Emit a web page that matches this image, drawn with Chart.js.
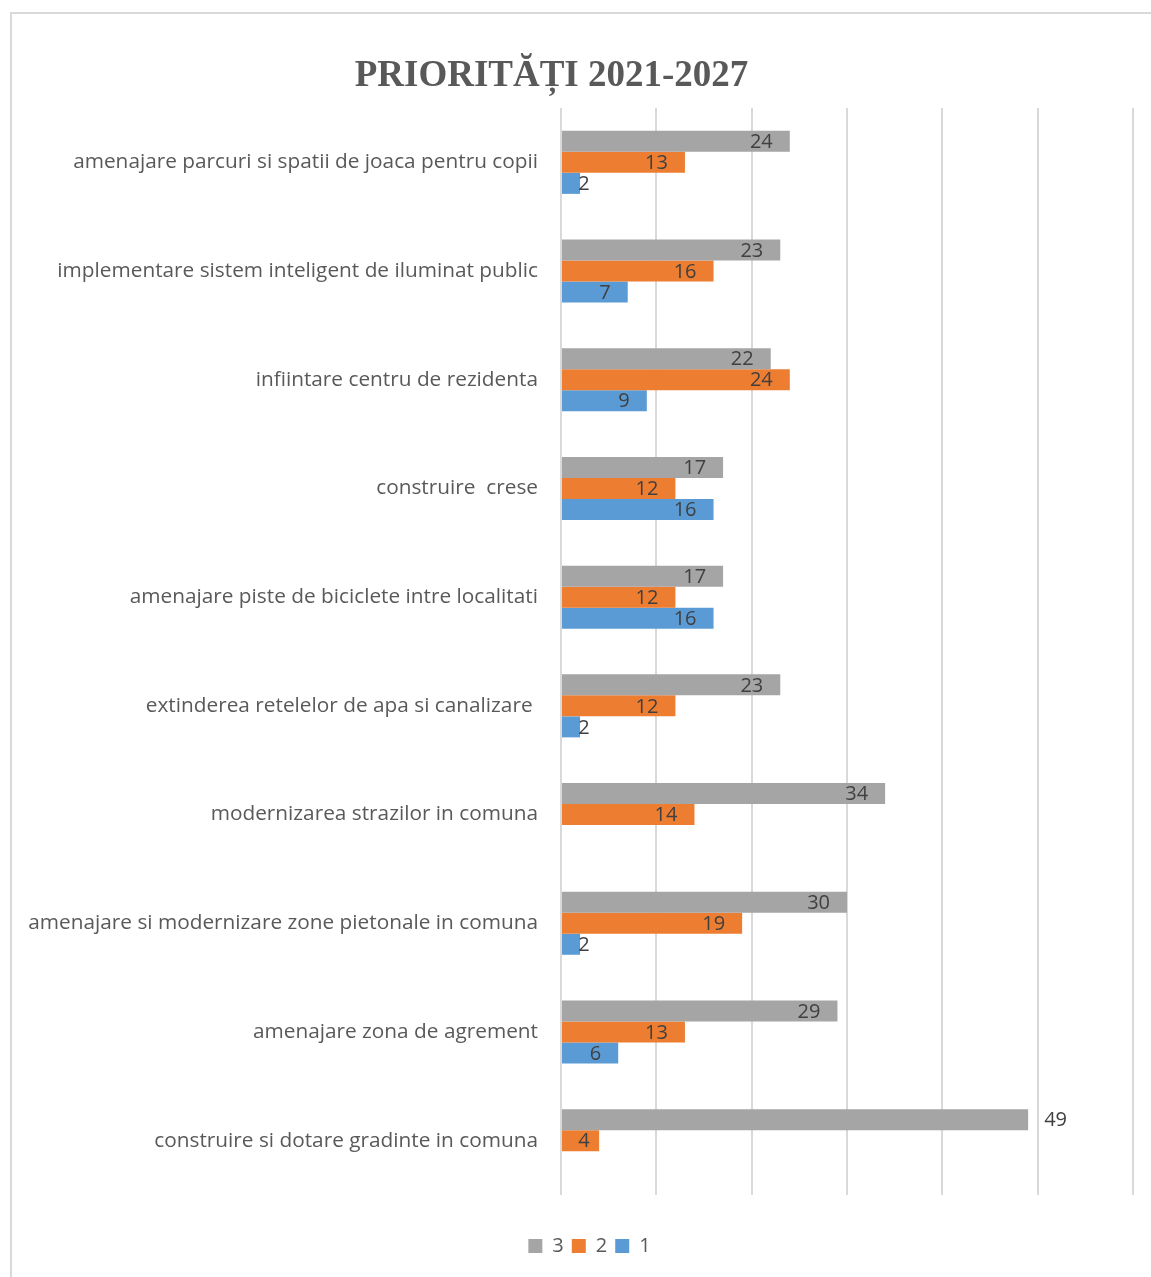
<!DOCTYPE html>
<html>
<head>
<meta charset="utf-8">
<script src="https://cdn.jsdelivr.net/npm/chart.js@4/dist/chart.umd.min.js"></script>
<style>
  html, body { margin: 0; padding: 0; background: #fff; }
  #wrap { position: relative; width: 1151px; height: 1277px; overflow: hidden; }
  #frame { position: absolute; left: 10px; top: 12px; width: 1200px; height: 1300px; border: 2px solid #d9d9d9; box-sizing: border-box; pointer-events: none; }
  canvas { position: absolute; left: 0; top: 0; }
</style>
</head>
<body>
<div id="wrap">
  <canvas id="c" width="1151" height="1277"></canvas>
  <div id="frame"></div>
</div>
<script>
const chartTitle = 'PRIORITĂȚI 2021-2027';
const categories = [
  'amenajare parcuri si spatii de joaca pentru copii',
  'implementare sistem inteligent de iluminat public',
  'infiintare centru de rezidenta',
  'construire  crese',
  'amenajare piste de biciclete intre localitati',
  'extinderea retelelor de apa si canalizare ',
  'modernizarea strazilor in comuna',
  'amenajare si modernizare zone pietonale in comuna',
  'amenajare zona de agrement',
  'construire si dotare gradinte in comuna'
];
const seriesNames = ['3', '2', '1'];
const series3 = [24, 23, 22, 17, 17, 23, 34, 30, 29, 49];
const series2 = [13, 16, 24, 12, 12, 12, 14, 19, 13, 4];
const series1 = [2, 7, 9, 16, 16, 2, null, 2, 6, null];
const seriesColors = ['#A5A5A5', '#ED7D31', '#5B9BD5'];
const xMin = 0, xMax = 60, xStep = 10;

const allVals = [...series3, ...series2, ...series1].filter(v => v != null);
const maxVal = Math.max(...allVals);

const titlePlugin = {
  id: 'customTitle',
  afterDraw(chart) {
    const ctx = chart.ctx;
    ctx.save();
    ctx.font = 'bold 37px "Liberation Serif"';
    ctx.fillStyle = '#595959';
    ctx.textAlign = 'center';
    ctx.textBaseline = 'alphabetic';
    ctx.fillText(chartTitle, 551.5, 86);
    ctx.restore();
  }
};

const legendShift = {
  id: 'legendShift',
  afterLayout(chart) {
    if (chart.legend) {
      chart.legend.left += 23;
      chart.legend.right += 23;
    }
  }
};

const labelPlugin = {
  id: 'barLabels',
  afterDatasetsDraw(chart) {
    const ctx = chart.ctx;
    ctx.save();
    ctx.font = '20px "Open Sans"';
    ctx.fillStyle = '#404040';
    ctx.textAlign = 'center';
    ctx.textBaseline = 'middle';
    chart.data.datasets.forEach((ds, i) => {
      const meta = chart.getDatasetMeta(i);
      meta.data.forEach((bar, j) => {
        const v = ds.data[j];
        if (v == null) return;
        const t = String(v);
        const w = ctx.measureText(t).width;
        let cx;
        if (v === maxVal) cx = bar.x + 16 + w / 2;
        else cx = Math.max(bar.x - 17 - w / 2, bar.base + 22);
        ctx.fillText(t, cx, bar.y + 1);
      });
    });
    ctx.restore();
  }
};

new Chart(document.getElementById('c'), {
  type: 'bar',
  data: {
    labels: categories,
    datasets: [
      { label: seriesNames[0], data: series3, backgroundColor: seriesColors[0] },
      { label: seriesNames[1], data: series2, backgroundColor: seriesColors[1] },
      { label: seriesNames[2], data: series1, backgroundColor: seriesColors[2] }
    ]
  },
  options: {
    indexAxis: 'y',
    responsive: false,
    animation: false,
    devicePixelRatio: 1,
    datasets: { bar: { barPercentage: 1.0, categoryPercentage: 0.58 } },
    layout: { padding: { left: 0, right: 18, top: 108, bottom: 11 } },
    plugins: {
      title: { display: false },
      tooltip: { enabled: false },
      legend: {
        display: true,
        position: 'bottom',
        labels: {
          boxWidth: 14,
          boxHeight: 14,
          padding: 8,
          color: '#595959',
          font: { family: '"Open Sans"', size: 20 }
        }
      }
    },
    scales: {
      x: {
        min: xMin, max: xMax,
        ticks: { display: false, stepSize: xStep },
        grid: { color: '#d9d9d9', lineWidth: 2, drawTicks: false },
        border: { display: false },
        afterFit(scale) { scale.height = 33; }
      },
      y: {
        ticks: {
          color: '#595959',
          font: { family: '"Open Sans"', size: 20.8 },
          padding: 23,
          autoSkip: false
        },
        grid: { display: false, drawTicks: false },
        border: { display: false },
        afterFit(scale) { scale.width = 561; }
      }
    }
  },
  plugins: [titlePlugin, labelPlugin, legendShift]
});
</script>
</body>
</html>
